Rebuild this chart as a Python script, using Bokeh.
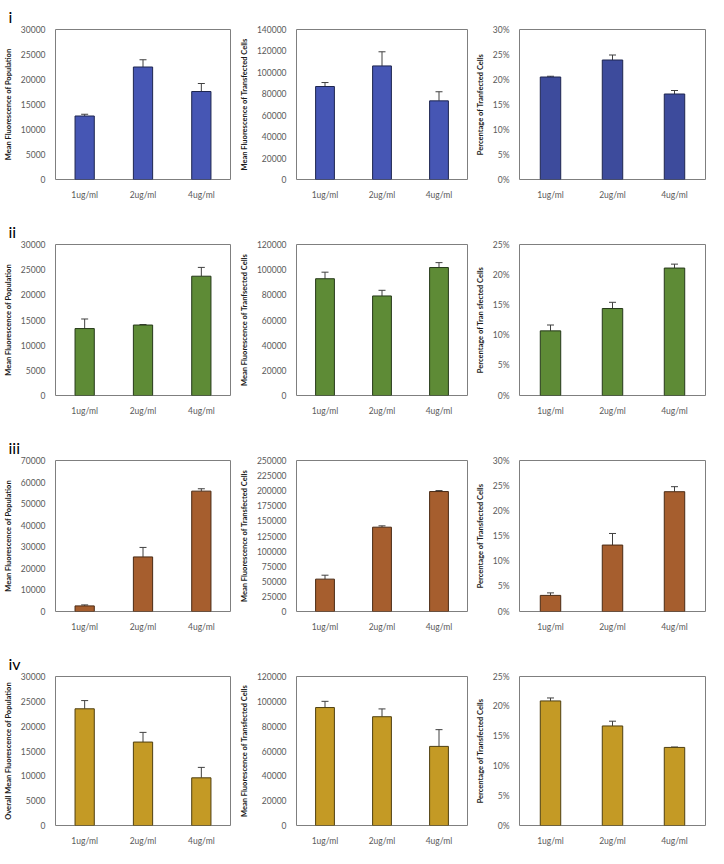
from bokeh.plotting import figure
from bokeh.layouts import column, row
from bokeh.models import (ColumnDataSource, Range1d, FactorRange, FixedTicker,
                          NumeralTickFormatter, Whisker, TeeHead)
from bokeh.embed import file_html
from bokeh.resources import INLINE

doses = ["1ug/ml", "2ug/ml", "4ug/ml"]
row_labels = ["i", "ii", "iii", "iv"]

# Row i
i_pop = [12700, 22500, 17600]
i_pop_err = [350, 1450, 1600]
i_tf = [86800, 106000, 73400]
i_tf_err = [3700, 13200, 8500]
i_pct = [0.205, 0.239, 0.171]
i_pct_err = [0.0015, 0.010, 0.007]

# Row ii
ii_pop = [13300, 14000, 23700]
ii_pop_err = [1900, 100, 1750]
ii_tf = [92800, 79100, 101700]
ii_tf_err = [5200, 4500, 3900]
ii_pct = [0.107, 0.144, 0.211]
ii_pct_err = [0.0097, 0.0103, 0.0065]

# Row iii
iii_pop = [2600, 25300, 55800]
iii_pop_err = [450, 4400, 1100]
iii_tf = [53600, 139600, 198600]
iii_tf_err = [6500, 2200, 1600]
iii_pct = [0.032, 0.132, 0.238]
iii_pct_err = [0.005, 0.023, 0.010]

# Row iv
iv_pop = [23500, 16800, 9600]
iv_pop_err = [1650, 1950, 2100]
iv_tf = [95000, 87600, 63700]
iv_tf_err = [5000, 6300, 13500]
iv_pct = [0.209, 0.167, 0.131]
iv_pct_err = [0.005, 0.008, 0.0007]

# axis maxima / steps
y_max = [[30000, 140000, 0.30], [30000, 120000, 0.25],
         [70000, 250000, 0.30], [30000, 120000, 0.25]]
y_step = [[5000, 20000, 0.05], [5000, 20000, 0.05],
          [10000, 25000, 0.05], [5000, 20000, 0.05]]

y_titles = [
    ["Mean Fluorescence of Population", "Mean Fluorescence of Transfected Cells", "Percentage of Tranfected Cells"],
    ["Mean Fluorescence of Population", "Mean Fluorescence of Tranfsected Cells", "Percentage of Tran sfected Cells"],
    ["Mean Fluorescence of Population", "Mean Fluorescence of Transfected Cells", "Percentage of Transfected Cells"],
    ["Overall Mean Fluorescence of Population", "Mean Fluorescence of Transfected Cells", "Percentage of Transfected Cells"],
]

values = [[i_pop, i_tf, i_pct], [ii_pop, ii_tf, ii_pct],
          [iii_pop, iii_tf, iii_pct], [iv_pop, iv_tf, iv_pct]]
errors = [[i_pop_err, i_tf_err, i_pct_err], [ii_pop_err, ii_tf_err, ii_pct_err],
          [iii_pop_err, iii_tf_err, iii_pct_err], [iv_pop_err, iv_tf_err, iv_pct_err]]

fills = [["#4656B4", "#4656B4", "#3D4B9C"],
         ["#5E8B36", "#5E8B36", "#5E8B36"],
         ["#A65E2E", "#A65E2E", "#A65E2E"],
         ["#C49A25", "#C49A25", "#C49A25"]]
edges = ["#1E2650", "#26391A", "#4A2A14", "#4F3F10"]

# layout geometry
col_w = [236, 236, 236]
b_left = [49, 51, 47]
b_right = [6, 5, 3]
row_h = [204, 216, 216, 212]
b_top = [28, 40, 40, 40]
b_bottom = [25, 25, 25, 21]

FONT = "Lato"
TICK_COLOR = "#595959"


def make_panel(r, c):
    vals = values[r][c]
    errs = errors[r][c]
    ymax = y_max[r][c]
    step = y_step[r][c]
    pct = (c == 2)
    p = figure(x_range=FactorRange(factors=doses, range_padding=0),
               y_range=Range1d(0, ymax),
               width=col_w[c], height=row_h[r],
               output_backend="svg", toolbar_location=None,
               min_border_left=b_left[c], min_border_right=b_right[c],
               min_border_top=b_top[r], min_border_bottom=b_bottom[r])
    src = ColumnDataSource(dict(x=doses, top=vals,
                                upper=[v + e for v, e in zip(vals, errs)]))
    p.vbar(x="x", top="top", width=0.33, source=src,
           fill_color=fills[r][c], line_color=edges[r], line_width=1)
    p.add_layout(Whisker(source=src, base="x", upper="upper", lower="top",
                         line_color="#404040", line_width=1,
                         upper_head=TeeHead(size=7, line_color="#404040", line_width=1),
                         lower_head=None))
    n = int(round(ymax / step))
    p.yaxis.ticker = FixedTicker(ticks=[round(k * step, 6) for k in range(n + 1)])
    p.yaxis.formatter = NumeralTickFormatter(format="0%" if pct else "0")
    p.yaxis.axis_label = y_titles[r][c]
    p.yaxis.axis_label_text_font = FONT
    p.yaxis.axis_label_text_font_size = "7.5px"
    p.yaxis.axis_label_text_font_style = "bold"
    p.yaxis.axis_label_text_color = "#1a1a1a"
    p.yaxis.axis_label_standoff = 5
    for ax in (p.xaxis, p.yaxis):
        ax.major_label_text_font = FONT
        ax.major_label_text_font_size = "8.5px"
        ax.major_label_text_color = TICK_COLOR
        ax.major_tick_line_color = None
        ax.minor_tick_line_color = None
        ax.axis_line_color = None
        ax.major_label_standoff = 4
    p.xgrid.visible = False
    p.ygrid.visible = False
    p.outline_line_color = "#7f7f7f"
    p.outline_line_width = 1
    p.background_fill_color = "white"
    p.border_fill_color = "white"
    if c == 0:
        p.title.text = row_labels[r]
        p.title.align = "left"
        p.title.offset = -(b_left[c] - 2)
        p.title.text_font = FONT
        p.title.text_font_size = "16px"
        p.title.text_font_style = "normal"
        p.title.text_color = "black"
        p.title.standoff = 8
    return p


rows = []
for r in range(4):
    rows.append(row([make_panel(r, c) for c in range(3)]))
layout = column(rows)

open("out.html", "w").write(file_html(layout, INLINE))
